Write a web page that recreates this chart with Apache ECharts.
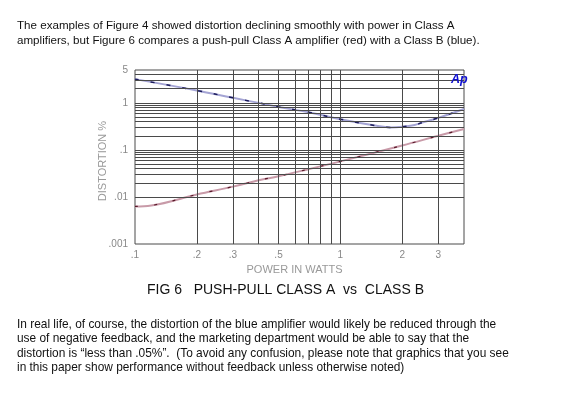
<!DOCTYPE html>
<html><head><meta charset="utf-8">
<script src="https://cdn.jsdelivr.net/npm/echarts@6/dist/echarts.min.js"></script>
<style>html,body{margin:0;padding:0;background:#fff}#c{width:567px;height:398px}</style>
</head><body><div id="c"></div>
<script>
// Data
const classBPower = [0.1, 0.2, 0.3, 0.4, 0.5, 0.7, 1, 1.5, 1.75, 2, 2.3, 2.5, 3, 4];
const classBDist  = [3.2, 1.84, 1.28, 1.0, 0.82, 0.63, 0.45, 0.325, 0.30, 0.31, 0.34, 0.38, 0.48, 0.74];
const classAPower = [0.1, 0.12, 0.2, 0.3, 0.4, 0.5, 0.7, 1, 2, 3, 4];
const classADist  = [0.0063, 0.0066, 0.0113, 0.0166, 0.0226, 0.0276, 0.039, 0.057, 0.124, 0.2, 0.279];
const xTickLabels = [0.1, 0.2, 0.3, 0.5, 1, 2, 3];
const yTickLabels = [0.001, 0.01, 0.1, 1, 5];
const xGridValues = [0.2, 0.3, 0.4, 0.5, 0.6, 0.7, 0.8, 0.9, 1, 2, 3];
const yGridValues = [0.002,0.003,0.004,0.005,0.006,0.007,0.008,0.009,
                     0.01,0.02,0.03,0.04,0.05,0.06,0.07,0.08,0.09,
                     0.1,0.2,0.3,0.4,0.5,0.6,0.7,0.8,0.9,1,2,3,4];
const topText = 'The examples of Figure 4 showed distortion declining smoothly with power in Class A\namplifiers, but Figure 6 compares a push-pull Class A amplifier (red) with a Class B (blue).';
const captionText = 'FIG 6   PUSH-PULL CLASS A  vs  CLASS B';
const bottomText = 'In real life, of course, the distortion of the blue amplifier would likely be reduced through the\nuse of negative feedback, and the marketing department would be able to say that the\ndistortion is \u201cless than .05%\u201d.  (To avoid any confusion, please note that graphics that you see\nin this paper show performance without feedback unless otherwise noted)';

const fmt = v => { let s = String(+v.toPrecision(6)); return s.startsWith('0.') ? s.slice(1) : s; };
const pair = (xs, ys) => xs.map((x, i) => [x, ys[i]]);
const font = '"Liberation Sans", Arial, sans-serif';
const gridColor = '#4a4a4a';

const chart = echarts.init(document.getElementById('c'), null, {renderer: 'canvas'});
chart.setOption({
  animation: false,
  backgroundColor: '#fff',
  textStyle: {fontFamily: font},
  title: [
    {text: topText, left: 17, top: 18, padding: 0, textStyle: {fontSize: 11.6, fontWeight: 'normal', color: '#111', lineHeight: 15, fontFamily: font}},
    {text: captionText, left: 147, top: 283, padding: 0, textStyle: {fontSize: 14, fontWeight: 'normal', color: '#111', fontFamily: font}},
    {text: bottomText, left: 17, top: 317, padding: 0, textStyle: {fontSize: 11.9, fontWeight: 'normal', color: '#111', lineHeight: 14.5, fontFamily: font}},
    {text: 'Ap', left: 451, top: 73, padding: 0, textStyle: {fontSize: 12.5, fontWeight: 'bold', fontStyle: 'italic', color: '#1010d0', fontFamily: font}}
  ],
  grid: {left: 135, top: 70, right: 103, bottom: 154, show: true, borderColor: gridColor, borderWidth: 1},
  xAxis: {
    type: 'log', logBase: 10, min: 0.1, max: 4,
    name: 'POWER IN WATTS', nameLocation: 'middle', nameGap: 20, nameMoveOverlap: false,
    nameTextStyle: {color: '#999', fontSize: 11, fontFamily: font, padding: [0, 10, 0, 0]},
    axisLine: {show: false}, axisTick: {show: false}, splitLine: {show: false},
    axisLabel: {customValues: xTickLabels, formatter: fmt, color: '#888', fontSize: 10, margin: 6, showMinLabel: true, showMaxLabel: true}
  },
  yAxis: {
    type: 'log', logBase: 10, min: 0.001, max: 5,
    name: 'DISTORTION %', nameLocation: 'middle', nameGap: 27, nameMoveOverlap: false,
    nameTextStyle: {color: '#999', fontSize: 11, fontFamily: font, padding: [0, 8, 0, 0]},
    axisLine: {show: false}, axisTick: {show: false}, splitLine: {show: false},
    axisLabel: {customValues: yTickLabels, formatter: fmt, color: '#888', fontSize: 10, margin: 7, showMinLabel: true, showMaxLabel: true}
  },
  series: [
    {
      type: 'line', data: [], silent: true,
      markLine: {
        silent: true, symbol: 'none', animation: false, label: {show: false},
        lineStyle: {color: gridColor, width: 1, type: 'solid'},
        data: xGridValues.map(v => ({xAxis: v})).concat(yGridValues.map(v => ({yAxis: v})))
      }
    },
    {type: 'line', name: 'Class B', data: pair(classBPower, classBDist), smooth: 0.4, symbol: 'none', lineStyle: {color: '#a4a4d4', width: 2}, z: 3},
    {type: 'line', name: 'Class B dash', data: pair(classBPower, classBDist), smooth: 0.4, symbol: 'none', lineStyle: {color: '#1a1a5a', width: 1.5, type: [4, 12]}, z: 4},
    {type: 'line', name: 'Class A', data: pair(classAPower, classADist), smooth: 0.4, symbol: 'none', lineStyle: {color: '#c89aa8', width: 2}, z: 3},
    {type: 'line', name: 'Class A dash', data: pair(classAPower, classADist), smooth: 0.4, symbol: 'none', lineStyle: {color: '#5a1a2a', width: 1.2, type: [3, 16]}, z: 4}
  ]
});
</script></body></html>
